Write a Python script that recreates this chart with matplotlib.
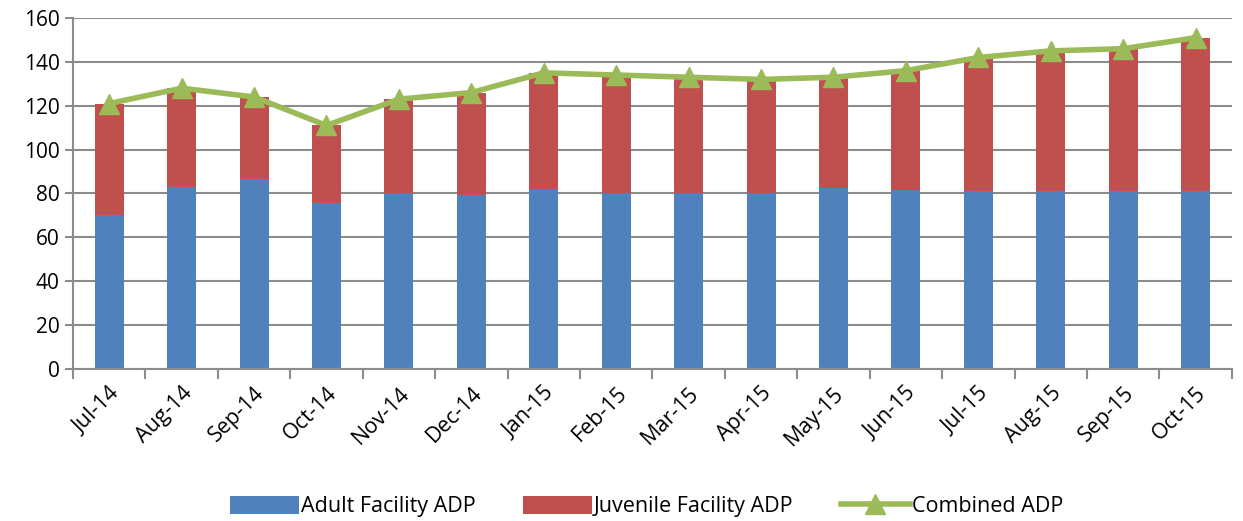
import matplotlib
matplotlib.use("Agg")
import matplotlib.pyplot as plt
import numpy as np

months = ["Jul-14", "Aug-14", "Sep-14", "Oct-14", "Nov-14", "Dec-14", "Jan-15", "Feb-15",
          "Mar-15", "Apr-15", "May-15", "Jun-15", "Jul-15", "Aug-15", "Sep-15", "Oct-15"]
adult = [70, 83, 86.5, 75.5, 80, 79.3, 82, 80, 80.2, 80, 82.7, 81.5, 81, 81, 81, 81]
combined = [121, 128, 124, 111, 123, 126, 135, 134, 133, 132, 133, 136, 142, 145, 146, 151]
juvenile = [c - a for c, a in zip(combined, adult)]

plt.rcParams['font.family'] = ['Open Sans', 'DejaVu Sans']
fig = plt.figure(figsize=(12.43, 5.21), dpi=100)
ax = fig.add_axes([0.0587, 0.2917, 0.9323, 0.6738])

x = np.arange(len(months))
w = 0.4
b1 = ax.bar(x, adult, w, color="#4F81BD", label="Adult Facility ADP", zorder=2)
b2 = ax.bar(x, juvenile, w, bottom=adult, color="#C0504D", label="Juvenile Facility ADP", zorder=2)
l1, = ax.plot(x, combined, color="#9BBB59", lw=4, marker="^", markersize=15,
              label="Combined ADP", zorder=3)

ax.set_xlim(-0.5, len(months) - 0.5)
ax.set_ylim(0, 160)
ax.set_yticks(range(0, 161, 20))
ax.yaxis.grid(True, color="#8C8C8C", lw=1.5, zorder=0)
ax.set_axisbelow(True)
ax.set_xticks(x)
ax.set_xticklabels(months, rotation=45, ha="right", rotation_mode="anchor", fontsize=15.5)
ax.tick_params(axis="x", length=0, pad=10)
ax.set_xticks(np.arange(-0.5, len(months), 1), minor=True)
ax.tick_params(axis="x", which="minor", length=7, width=1.5, color="#8C8C8C")
ax.tick_params(axis="y", length=6, width=1.5, color="#8C8C8C", labelsize=15)
for s in ["top", "right"]:
    ax.spines[s].set_visible(False)
for s in ["left", "bottom"]:
    ax.spines[s].set_color("#8C8C8C")
    ax.spines[s].set_linewidth(1.5)

fig.legend([b1, b2, l1], ["Adult Facility ADP", "Juvenile Facility ADP", "Combined ADP"],
           loc="lower center", bbox_to_anchor=(0.52, -0.03), ncol=3, frameon=False,
           fontsize=15.5, handlelength=3.2, handleheight=0.9, columnspacing=2.2,
           handletextpad=0.1)
fig.savefig("out.png", dpi=100)
